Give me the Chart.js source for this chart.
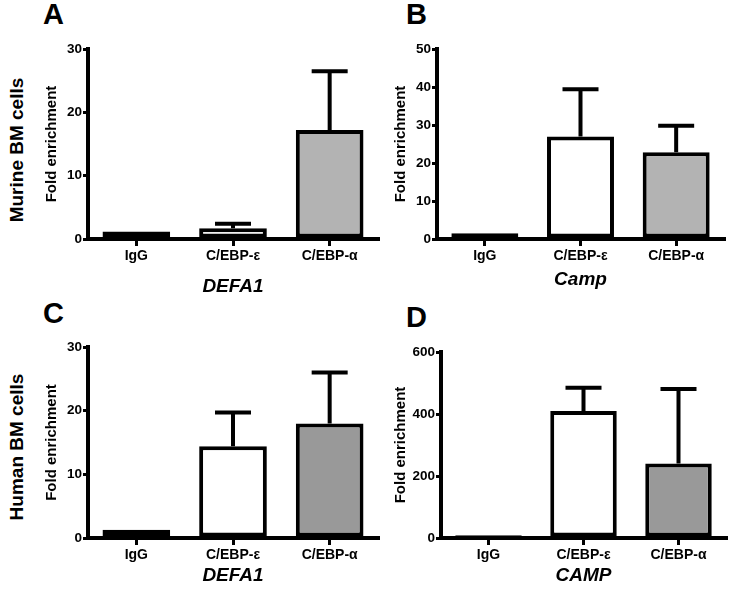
<!DOCTYPE html>
<html lang="en">
<head>
    <meta charset="UTF-8">
    <title>Fold enrichment</title>
    <script src="https://cdn.jsdelivr.net/npm/chart.js"></script>
    <style>
        body { margin: 0; background: #fff; font-family: "Liberation Sans", Arial, sans-serif; }
        #page { position: relative; width: 730px; height: 596px; overflow: hidden; }
        .panel { position: absolute; }
        .letter { position: absolute; font-weight: bold; font-size: 29px; line-height: 1; }
        .rowlabel {
            position: absolute; font-weight: bold; font-size: 19px; line-height: 1;
            white-space: nowrap; transform: translate(-50%, -50%) rotate(-90deg);
        }
    </style>
</head>
<body>
<div id="page">
    <div class="letter" style="left:43px; top:0px;">A</div>
    <div class="letter" style="left:406px; top:0px;">B</div>
    <div class="letter" style="left:43px; top:299px;">C</div>
    <div class="letter" style="left:406px; top:303px;">D</div>
    <div class="rowlabel" style="left:16px; top:150px;">Murine BM cells</div>
    <div class="rowlabel" style="left:16px; top:447px;">Human BM cells</div>

    <div class="panel" style="left:0; top:0; width:380px; height:298px;"><canvas id="chart-a"></canvas></div>
    <div class="panel" style="left:365px; top:0; width:365px; height:298px;"><canvas id="chart-b"></canvas></div>
    <div class="panel" style="left:0; top:298px; width:380px; height:298px;"><canvas id="chart-c"></canvas></div>
    <div class="panel" style="left:365px; top:298px; width:365px; height:298px;"><canvas id="chart-d"></canvas></div>
</div>
<script>
    // data
    const categories = ['IgG', 'C/EBP-ε', 'C/EBP-α'];

    const murineDefa1Mean = [1.2, 1.7, 17.2];
    const murineDefa1Err = [0, 0.7, 9.3];
    const murineCampMean = [1.5, 27.0, 22.8];
    const murineCampErr = [0, 12.4, 7.0];
    const humanDefa1Mean = [1.3, 14.4, 18.0];
    const humanDefa1Err = [0, 5.3, 8.0];
    const humanCampMean = [9, 410, 240];
    const humanCampErr = [0, 75, 241];

    const murineColors = ['#000000', '#ffffff', '#b3b3b3'];
    const humanColors = ['#000000', '#ffffff', '#999999'];

    // upper error bars, drawn through the y scale
    const errorBars = {
        id: 'errorBars',
        afterDatasetsDraw(chart) {
            const ctx = chart.ctx;
            const yScale = chart.scales.y;
            const ds = chart.data.datasets[0];
            chart.getDatasetMeta(0).data.forEach((bar, i) => {
                const err = ds.errors[i];
                if (!err) return;
                const yTop = yScale.getPixelForValue(ds.data[i] + err);
                ctx.save();
                ctx.strokeStyle = '#000';
                ctx.lineWidth = 4;
                ctx.beginPath();
                ctx.moveTo(bar.x, bar.y);
                ctx.lineTo(bar.x, yTop);
                ctx.moveTo(bar.x - 18, yTop);
                ctx.lineTo(bar.x + 18, yTop);
                ctx.stroke();
                ctx.restore();
            });
        }
    };

    const makePanel = (id, means, errs, colors, yMax, step, xTitle, geo) => {
        return new Chart(document.getElementById(id), {
            type: 'bar',
            data: {
                labels: categories,
                datasets: [{
                    data: means,
                    errors: errs,
                    backgroundColor: colors,
                    borderColor: '#000',
                    borderWidth: 4,
                    borderSkipped: false,
                    barPercentage: 0.7,
                    categoryPercentage: 1
                }]
            },
            options: {
                responsive: true,
                maintainAspectRatio: false,
                animation: false,
                layout: { padding: { left: geo.left, top: geo.top, right: geo.right, bottom: 0 } },
                plugins: { legend: { display: false }, tooltip: { enabled: false } },
                scales: {
                    x: {
                        afterFit: (s) => { s.height = geo.xHeight; },
                        grid: { drawOnChartArea: false, offset: false, tickLength: 7, lineWidth: 3, color: '#000' },
                        border: { width: 4, color: '#000' },
                        ticks: { color: '#000', padding: 2, font: { family: 'Liberation Sans', size: 14, weight: 'bold' } },
                        title: {
                            display: true, text: xTitle, color: '#000',
                            padding: { top: 0, bottom: geo.xTitlePad },
                            font: { family: 'Liberation Sans', size: 19, weight: 'bold', style: 'italic' }
                        }
                    },
                    y: {
                        min: 0, max: yMax,
                        afterFit: (s) => { s.width = geo.yWidth; },
                        grid: { drawOnChartArea: false, tickLength: 5, lineWidth: 3, color: '#000' },
                        border: { width: 4, color: '#000' },
                        ticks: { stepSize: step, color: '#000', padding: 1, font: { family: 'Liberation Sans', size: 13.5, weight: 'bold' } },
                        title: {
                            display: true, text: 'Fold enrichment', color: '#000',
                            padding: { top: 4, bottom: 0 },
                            font: { family: 'Liberation Sans', size: 15, weight: 'bold' }
                        }
                    }
                }
            },
            plugins: [errorBars]
        });
    };

    makePanel('chart-a', murineDefa1Mean, murineDefa1Err, murineColors, 30, 10, 'DEFA1',
        { left: 39, top: 49, right: 2, yWidth: 49, xHeight: 59, xTitlePad: 0 });
    makePanel('chart-b', murineCampMean, murineCampErr, murineColors, 50, 10, 'Camp',
        { left: 23, top: 49, right: 6, yWidth: 49, xHeight: 59, xTitlePad: 7 });
    makePanel('chart-c', humanDefa1Mean, humanDefa1Err, humanColors, 30, 10, 'DEFA1',
        { left: 39, top: 49, right: 2, yWidth: 49, xHeight: 58, xTitlePad: 9 });
    makePanel('chart-d', humanCampMean, humanCampErr, humanColors, 600, 200, 'CAMP',
        { left: 23, top: 54, right: 4, yWidth: 53, xHeight: 58, xTitlePad: 9 });
</script>
</body>
</html>
